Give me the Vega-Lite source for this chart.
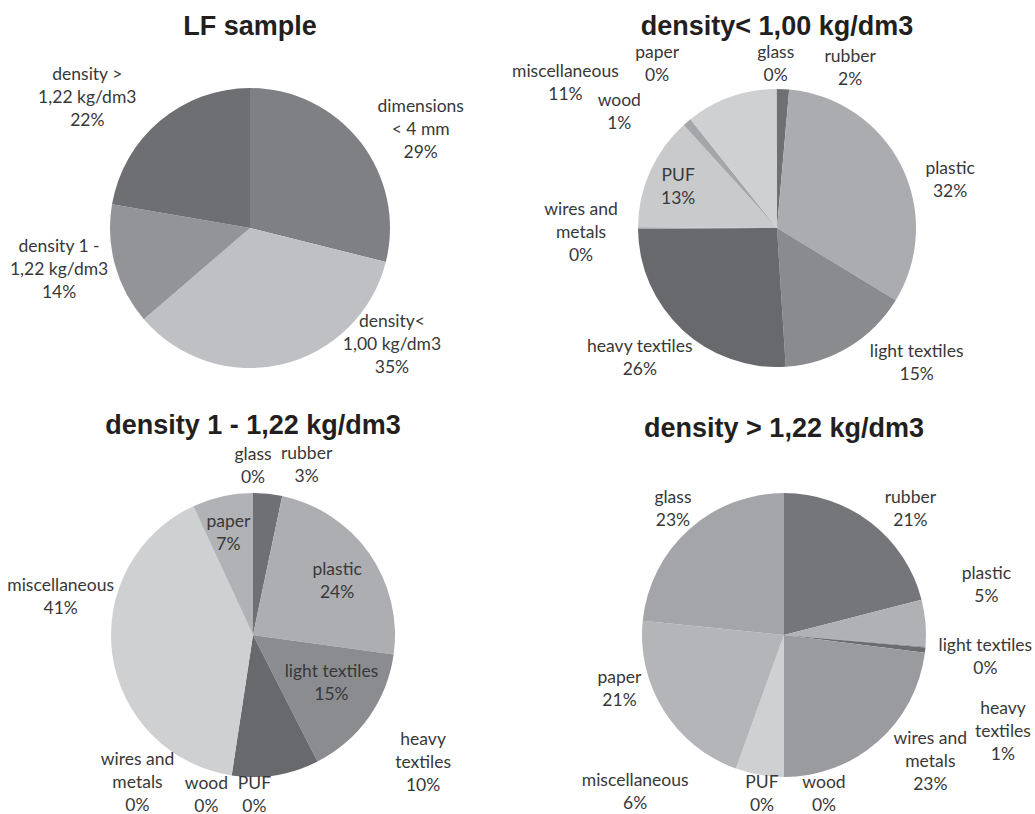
{
  "$schema": "https://vega.github.io/schema/vega-lite/v6.json",
  "background": "white",
  "padding": {"left": 2, "top": 8, "right": 0, "bottom": 0},
  "bounds": "flush",
  "columns": 2,
  "spacing": {"row": 0, "column": 28},
  "resolve": {"scale": {"color": "independent", "theta": "independent"}},
  "config": {
    "view": {"stroke": null},
    "title": {"font": "Liberation Sans", "fontSize": 27, "fontWeight": "bold", "color": "#231f20", "anchor": "middle", "frame": "group", "baseline": "alphabetic"},
    "text": {"font": "Lato", "fontSize": 17.5, "lineHeight": 23, "color": "#383838", "align": "center", "baseline": "middle"}
  },
  "concat": [
    {
      "title": {"text": "LF sample", "offset": -33},
      "width": 496, "height": 440,
      "data": {"values": [
        {"cat": "dimensions < 4 mm", "v": 28.9, "idx": 1, "label": "dimensions\n< 4 mm\n29%"},
        {"cat": "density< 1,00 kg/dm3", "v": 34.8, "idx": 2, "label": "density<\n1,00 kg/dm3\n35%"},
        {"cat": "density 1 - 1,22 kg/dm3", "v": 14.0, "idx": 3, "label": "density 1 -\n1,22 kg/dm3\n14%"},
        {"cat": "density > 1,22 kg/dm3", "v": 22.3, "idx": 4, "label": "density >\n1,22 kg/dm3\n22%"}
      ]},
      "encoding": {
        "theta": {"field": "v", "type": "quantitative", "stack": true},
        "order": {"field": "idx", "type": "quantitative"}
      },
      "layer": [
        {"mark": {"type": "arc", "radius": 140},
         "encoding": {"color": {"field": "cat", "type": "nominal", "legend": null,
           "scale": {"domain": ["dimensions < 4 mm", "density< 1,00 kg/dm3", "density 1 - 1,22 kg/dm3", "density > 1,22 kg/dm3"],
                     "range": ["#7f8084", "#bfc0c3", "#939498", "#6e6f73"]}}}},
        {"mark": {"type": "text", "radius": 195, "lineBreak": "\n",
           "dx": {"expr": "datum.cat=='dimensions < 4 mm'?17:datum.cat=='density< 1,00 kg/dm3'?97:datum.cat=='density 1 - 1,22 kg/dm3'?-3:-37"},
           "dy": {"expr": "datum.cat=='dimensions < 4 mm'?-1:datum.cat=='density< 1,00 kg/dm3'?-96:datum.cat=='density 1 - 1,22 kg/dm3'?-33:-4"}},
         "encoding": {"text": {"field": "label"}, "detail": {"field": "cat", "type": "nominal"}}}
      ]
    },
    {
      "title": {"text": "density< 1,00 kg/dm3", "offset": -33},
      "width": 490, "height": 440,
      "data": {"values": [
        {"cat": "rubber", "v": 1.4, "idx": 1, "label": "rubber\n2%"},
        {"cat": "plastic", "v": 32.3, "idx": 2, "label": "plastic\n32%"},
        {"cat": "light textiles", "v": 15.3, "idx": 3, "label": "light textiles\n15%"},
        {"cat": "heavy textiles", "v": 25.9, "idx": 4, "label": "heavy textiles\n26%"},
        {"cat": "wires and metals", "v": 0.2, "idx": 5, "label": "wires and\nmetals\n0%"},
        {"cat": "PUF", "v": 13.2, "idx": 6, "label": "PUF\n13%"},
        {"cat": "wood", "v": 1.0, "idx": 7, "label": "wood\n1%"},
        {"cat": "miscellaneous", "v": 10.6, "idx": 8, "label": "miscellaneous\n11%"},
        {"cat": "paper", "v": 0.05, "idx": 9, "label": "paper\n0%"},
        {"cat": "glass", "v": 0.05, "idx": 10, "label": "glass\n0%"}
      ]},
      "encoding": {
        "theta": {"field": "v", "type": "quantitative", "stack": true},
        "order": {"field": "idx", "type": "quantitative"}
      },
      "layer": [
        {"mark": {"type": "arc", "radius": 139},
         "encoding": {"color": {"field": "cat", "type": "nominal", "legend": null,
           "scale": {"domain": ["rubber", "plastic", "light textiles", "heavy textiles", "wires and metals", "PUF", "wood", "miscellaneous", "paper", "glass"],
                     "range": ["#6f7074", "#abacaf", "#8a8b8f", "#68696d", "#9a9b9f", "#c9cacc", "#a5a6a9", "#cfd0d2", "#b3b4b7", "#a4a5a8"]}}}},
        {"mark": {"type": "text", "radius": 185, "lineBreak": "\n",
           "dx": {"expr": "datum.cat=='rubber'?65:datum.cat=='plastic'?8:datum.cat=='light textiles'?44:datum.cat=='heavy textiles'?-11:datum.cat=='wires and metals'?-11:datum.cat=='PUF'?70:datum.cat=='wood'?-38:datum.cat=='miscellaneous'?-150:datum.cat=='paper'?-119:-1"},
           "dy": {"expr": "datum.cat=='rubber'?13.5:datum.cat=='plastic'?24.5:datum.cat=='light textiles'?-34.5:datum.cat=='heavy textiles'?-16.5:datum.cat=='wires and metals'?-18:datum.cat=='PUF'?23.5:datum.cat=='wood'?14.5:datum.cat=='miscellaneous'?18.5:datum.cat=='paper'?9.5:9.5"}},
         "encoding": {"text": {"field": "label"}, "detail": {"field": "cat", "type": "nominal"}}}
      ]
    },
    {
      "title": {"text": "density 1 - 1,22 kg/dm3", "offset": 5},
      "width": 502, "height": 374,
      "data": {"values": [
        {"cat": "rubber", "v": 3.3, "idx": 1, "label": "rubber\n3%"},
        {"cat": "plastic", "v": 23.9, "idx": 2, "label": "plastic\n24%"},
        {"cat": "light textiles", "v": 15.3, "idx": 3, "label": "light textiles\n15%"},
        {"cat": "heavy textiles", "v": 9.9, "idx": 4, "label": "heavy\ntextiles\n10%"},
        {"cat": "PUF", "v": 0, "idx": 5, "label": "PUF\n0%"},
        {"cat": "wood", "v": 0, "idx": 6, "label": "wood\n0%"},
        {"cat": "wires and metals", "v": 0, "idx": 7, "label": "wires and\nmetals\n0%"},
        {"cat": "miscellaneous", "v": 40.7, "idx": 8, "label": "miscellaneous\n41%"},
        {"cat": "paper", "v": 6.9, "idx": 9, "label": "paper\n7%"},
        {"cat": "glass", "v": 0, "idx": 10, "label": "glass\n0%"}
      ]},
      "encoding": {
        "theta": {"field": "v", "type": "quantitative", "stack": true},
        "order": {"field": "idx", "type": "quantitative"}
      },
      "layer": [
        {"mark": {"type": "arc", "radius": 142},
         "encoding": {"color": {"field": "cat", "type": "nominal", "legend": null,
           "scale": {"domain": ["rubber", "plastic", "light textiles", "heavy textiles", "wires and metals", "PUF", "wood", "miscellaneous", "paper", "glass"],
                     "range": ["#6f7074", "#adaeb1", "#8b8c90", "#68696d", "#9a9b9f", "#c9cacc", "#a5a6a9", "#cfd0d2", "#b1b2b5", "#a4a5a8"]}}}},
        {"mark": {"type": "text", "radius": 170, "lineBreak": "\n",
           "dx": {"expr": "datum.cat=='rubber'?36:datum.cat=='plastic'?-55:datum.cat=='light textiles'?-60:datum.cat=='heavy textiles'?143:datum.cat=='wires and metals'?-90:datum.cat=='PUF'?27:datum.cat=='wood'?-21:datum.cat=='miscellaneous'?-24:datum.cat=='paper'?12:0"},
           "dy": {"expr": "datum.cat=='rubber'?-11.5:datum.cat=='plastic'?32.5:datum.cat=='light textiles'?-61.5:datum.cat=='heavy textiles'?-63:datum.cat=='wires and metals'?-43:datum.cat=='PUF'?-19.5:datum.cat=='wood'?-19.5:datum.cat=='miscellaneous'?-72.5:datum.cat=='paper'?53.5:-10.5"}},
         "encoding": {"text": {"field": "label"}, "detail": {"field": "cat", "type": "nominal"}}}
      ]
    },
    {
      "title": {"text": "density > 1,22 kg/dm3", "offset": 5},
      "width": 504, "height": 374,
      "data": {"values": [
        {"cat": "rubber", "v": 21.0, "idx": 1, "label": "rubber\n21%"},
        {"cat": "plastic", "v": 5.3, "idx": 2, "label": "plastic\n5%"},
        {"cat": "light textiles", "v": 0.1, "idx": 3, "label": "light textiles\n0%"},
        {"cat": "heavy textiles", "v": 0.6, "idx": 4, "label": "heavy\ntextiles\n1%"},
        {"cat": "wires and metals", "v": 23.0, "idx": 5, "label": "wires and\nmetals\n23%"},
        {"cat": "wood", "v": 0, "idx": 6, "label": "wood\n0%"},
        {"cat": "PUF", "v": 0, "idx": 7, "label": "PUF\n0%"},
        {"cat": "miscellaneous", "v": 5.5, "idx": 8, "label": "miscellaneous\n6%"},
        {"cat": "paper", "v": 21.1, "idx": 9, "label": "paper\n21%"},
        {"cat": "glass", "v": 23.4, "idx": 10, "label": "glass\n23%"}
      ]},
      "encoding": {
        "theta": {"field": "v", "type": "quantitative", "stack": true},
        "order": {"field": "idx", "type": "quantitative"}
      },
      "layer": [
        {"mark": {"type": "arc", "radius": 142},
         "encoding": {"color": {"field": "cat", "type": "nominal", "legend": null,
           "scale": {"domain": ["rubber", "plastic", "light textiles", "heavy textiles", "wires and metals", "PUF", "wood", "miscellaneous", "paper", "glass"],
                     "range": ["#75767a", "#b0b1b4", "#8b8c90", "#6b6c70", "#9a9b9f", "#c9cacc", "#a5a6a9", "#cfd0d2", "#b4b5b8", "#a4a5a8"]}}}},
        {"mark": {"type": "text", "radius": 185, "lineBreak": "\n",
           "dx": {"expr": "datum.cat=='rubber'?13:datum.cat=='plastic'?18:datum.cat=='light textiles'?17:datum.cat=='heavy textiles'?35:datum.cat=='wires and metals'?24:datum.cat=='PUF'?-22:datum.cat=='wood'?40:datum.cat=='miscellaneous'?-117:datum.cat=='paper'?-8:13"},
           "dy": {"expr": "datum.cat=='rubber'?9.5:datum.cat=='plastic'?-45.5:datum.cat=='light textiles'?-4.5:datum.cat=='heavy textiles'?54:datum.cat=='wires and metals'?-35:datum.cat=='PUF'?-37.5:datum.cat=='wood'?-37.5:datum.cat=='miscellaneous'?-36.5:datum.cat=='paper'?-55.5:0.5"}},
         "encoding": {"text": {"field": "label"}, "detail": {"field": "cat", "type": "nominal"}}}
      ]
    }
  ]
}
